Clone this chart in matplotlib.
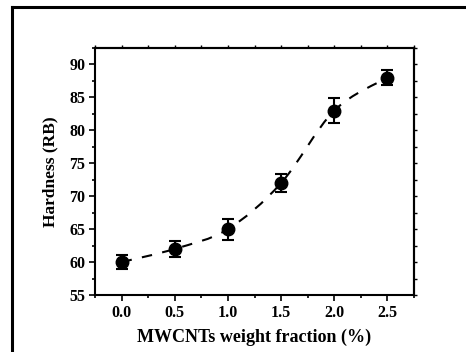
import numpy as np
import matplotlib
matplotlib.use('Agg')
import matplotlib.pyplot as plt
from matplotlib.path import Path
from matplotlib.patches import PathPatch
from matplotlib.lines import Line2D
from matplotlib.ticker import MultipleLocator

# data
fraction = [0.0, 0.5, 1.0, 1.5, 2.0, 2.5]
hardness = [60, 62, 65, 72, 83, 88]
hardness_err = [1.0, 1.2, 1.6, 1.4, 1.9, 1.1]
xtick_labels = ['0.0', '0.5', '1.0', '1.5', '2.0', '2.5']

plt.rcParams['font.family'] = ['Liberation Serif', 'DejaVu Serif']
plt.rcParams['font.weight'] = 'bold'

fig = plt.figure(figsize=(4.66, 3.52), dpi=100)
ax = fig.add_axes([0.2039, 0.162, 0.6845, 0.7016])

# smooth dashed connector (bezier through the points)
x = np.array(fraction, dtype=float)
y = np.array(hardness, dtype=float)
verts = [(x[0], y[0])]
codes = [Path.MOVETO]
for i in range(len(x) - 1):
    p0 = (x[max(i - 1, 0)], y[max(i - 1, 0)])
    p1 = (x[i], y[i])
    p2 = (x[i + 1], y[i + 1])
    p3 = (x[min(i + 2, len(x) - 1)], y[min(i + 2, len(x) - 1)])
    c1 = (p1[0] + (p2[0] - p0[0]) / 6, p1[1] + (p2[1] - p0[1]) / 6)
    c2 = (p2[0] - (p3[0] - p1[0]) / 6, p2[1] - (p3[1] - p1[1]) / 6)
    verts += [c1, c2, p2]
    codes += [Path.CURVE4] * 3
ax.add_patch(PathPatch(Path(verts, codes), fill=False, ls=(0, (5, 5)), lw=1.5, color='black'))

ax.errorbar(fraction, hardness, yerr=hardness_err, fmt='o', color='black',
            ms=9, capsize=4, elinewidth=1.5, capthick=1.5, zorder=3)

ax.set_xlim(-0.25, 2.75)
ax.set_ylim(55, 92.5)
ax.xaxis.set_minor_locator(MultipleLocator(0.25))
ax.yaxis.set_major_locator(MultipleLocator(5))
ax.yaxis.set_minor_locator(MultipleLocator(2.5))
ax.set_xticks(fraction)
ax.set_xticklabels(xtick_labels)

ax.tick_params(which='both', direction='out', width=1.2, labelsize=11.5, pad=3)
ax.tick_params(which='major', length=4)
ax.tick_params(which='minor', length=2.5)
# small ticks on the top and right edges
secx = ax.secondary_xaxis('top')
secx.set_xticks(fraction)
secx.xaxis.set_minor_locator(MultipleLocator(0.25))
secx.tick_params(which='both', direction='out', length=2, width=1, labeltop=False)
secy = ax.secondary_yaxis('right')
secy.yaxis.set_major_locator(MultipleLocator(5))
secy.yaxis.set_minor_locator(MultipleLocator(2.5))
secy.tick_params(which='both', direction='out', length=2, width=1, labelright=False)
for s in list(ax.spines.values()) + [secx.spines['top'], secy.spines['right']]:
    s.set_linewidth(1.5)

ax.set_xlabel('MWCNTs weight fraction (%)', fontsize=13, fontweight='bold', labelpad=6)
ax.set_ylabel('Hardness (RB)', fontsize=12.5, fontweight='bold', labelpad=8)

# frame lines around the figure (top and left only visible)
fig.add_artist(Line2D([11.5 / 466, 1.0], [1 - 7 / 352, 1 - 7 / 352], color='black', lw=2.2))
fig.add_artist(Line2D([11.5 / 466, 11.5 / 466], [0.0, 1 - 7 / 352], color='black', lw=2.2))

fig.savefig('out.png', dpi=100)
